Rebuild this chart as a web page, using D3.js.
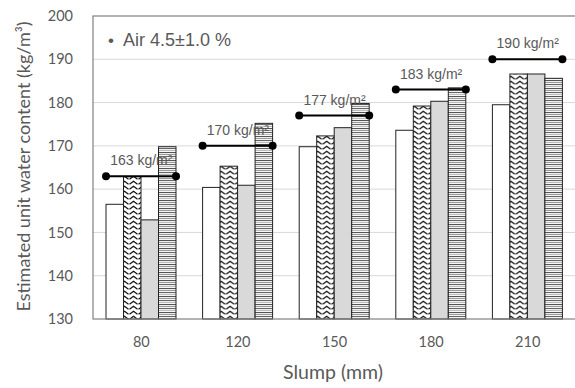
<!DOCTYPE html>
<html>
<head>
<meta charset="utf-8">
<script src="https://cdn.jsdelivr.net/npm/d3@7"></script>
<style>
  body { margin: 0; background: #fff; }
  svg { display: block; }
</style>
</head>
<body>
<div id="chart"></div>
<script>
// data
const slumps = ["80", "120", "150", "180", "210"];
const seriesNames = ["s1", "s2", "s3", "s4"];
const whiteBars   = [156.5, 160.4, 169.8, 173.6, 179.5];
const chevronBars = [162.9, 165.3, 172.3, 179.2, 186.6];
const grayBars    = [152.9, 160.9, 174.2, 180.3, 186.6];
const stripeBars  = [169.8, 175.2, 179.8, 183.4, 185.6];
const limits      = [163, 170, 177, 183, 190];
const yTicks      = [130, 140, 150, 160, 170, 180, 190, 200];

const W = 575, H = 388;
const margin = { top: 16, left: 93 };
const plotRight = 578, plotBottom = 319;

const svg = d3.select("#chart").append("svg")
  .attr("width", W).attr("height", H);

const defs = svg.append("defs");

// chevron pattern
const chev = defs.append("pattern")
  .attr("id", "chevron").attr("patternUnits", "userSpaceOnUse")
  .attr("width", 9).attr("height", 5);
chev.append("rect").attr("width", 9).attr("height", 5).attr("fill", "#fff");
chev.append("path").attr("d", "M0.5,4.2 L4.5,1.2 L8.5,4.2")
  .attr("fill", "none").attr("stroke", "#111").attr("stroke-width", 1.2);

// horizontal stripes pattern
const str = defs.append("pattern")
  .attr("id", "stripes").attr("patternUnits", "userSpaceOnUse")
  .attr("width", 4).attr("height", 8);
str.append("rect").attr("width", 4).attr("height", 8).attr("fill", "#fff");
[[0, "#555"], [2, "#999"], [4, "#666"], [6, "#bbb"]].forEach(([yy, c]) => {
  str.append("rect").attr("y", yy).attr("width", 4).attr("height", 1.1).attr("fill", c);
});

const x0 = d3.scaleBand().domain(slumps).range([margin.left, 576]).padding(0);
const x1 = d3.scaleBand().domain(seriesNames).range([13, 83]).padding(0);
const y = d3.scaleLinear().domain([130, 200]).range([plotBottom, margin.top]);

// gridlines
svg.append("g")
  .selectAll("line")
  .data(yTicks.slice(1, -1))
  .enter().append("line")
  .attr("x1", margin.left).attr("x2", plotRight)
  .attr("y1", d => y(d)).attr("y2", d => y(d))
  .attr("stroke", "#d9d9d9").attr("stroke-width", 1);

// bars
const fills = ["#fff", "url(#chevron)", "#d9d9d9", "url(#stripes)"];
const table = slumps.map((s, i) => ({
  slump: s,
  vals: [whiteBars[i], chevronBars[i], grayBars[i], stripeBars[i]]
}));

const groups = svg.append("g").selectAll("g")
  .data(table).enter().append("g")
  .attr("transform", d => `translate(${x0(d.slump)},0)`);

groups.selectAll("rect")
  .data(d => d.vals.map((v, j) => ({ key: seriesNames[j], v: v, j: j })))
  .enter().append("rect")
  .attr("x", d => x1(d.key))
  .attr("y", d => y(d.v))
  .attr("width", x1.bandwidth())
  .attr("height", d => y(130) - y(d.v))
  .attr("fill", d => fills[d.j])
  .attr("stroke", "#222")
  .attr("stroke-width", 1);

// frame
svg.append("rect")
  .attr("x", margin.left).attr("y", margin.top)
  .attr("width", plotRight - margin.left).attr("height", plotBottom - margin.top)
  .attr("fill", "none").attr("stroke", "#808080").attr("stroke-width", 1.2);

// limit lines with dots
const lim = svg.append("g").selectAll("g")
  .data(slumps.map((s, i) => ({ slump: s, v: limits[i] })))
  .enter().append("g");

lim.append("line")
  .attr("x1", d => x0(d.slump) + x1.range()[0])
  .attr("x2", d => x0(d.slump) + x1.range()[1])
  .attr("y1", d => y(d.v)).attr("y2", d => y(d.v))
  .attr("stroke", "#000").attr("stroke-width", 2);

lim.selectAll("circle")
  .data(d => [
    { cx: x0(d.slump) + x1.range()[0], cy: y(d.v) },
    { cx: x0(d.slump) + x1.range()[1], cy: y(d.v) }
  ])
  .enter().append("circle")
  .attr("cx", d => d.cx).attr("cy", d => d.cy).attr("r", 4)
  .attr("fill", "#000");

lim.append("text")
  .attr("x", d => x0(d.slump) + x0.bandwidth() / 2)
  .attr("y", d => y(d.v) - 11)
  .attr("text-anchor", "middle")
  .attr("font-family", "Liberation Sans, Arial, sans-serif")
  .attr("font-size", 14)
  .attr("fill", "#595959")
  .text(d => d.v + " kg/m\u00B2");

// y axis
const yAxis = svg.append("g")
  .attr("transform", `translate(${margin.left},0)`)
  .call(d3.axisLeft(y).tickValues(yTicks).tickSize(0).tickPadding(20));
yAxis.select(".domain").remove();
yAxis.selectAll("text")
  .attr("font-family", "Lato, sans-serif").attr("font-size", 14.5).attr("fill", "#595959");

// x axis
const xAxis = svg.append("g")
  .attr("transform", `translate(0,${plotBottom})`)
  .call(d3.axisBottom(x0).tickSize(0).tickPadding(18));
xAxis.select(".domain").remove();
xAxis.selectAll("text")
  .attr("font-family", "Lato, sans-serif").attr("font-size", 14.5).attr("fill", "#595959");

// annotation
svg.append("text")
  .attr("x", 108).attr("y", 45.5)
  .attr("font-family", "Liberation Sans, Arial, sans-serif")
  .attr("font-size", 17)
  .attr("fill", "#595959")
  .text("\u2022");
svg.append("text")
  .attr("x", 123).attr("y", 45.5)
  .attr("font-family", "Liberation Sans, Arial, sans-serif")
  .attr("font-size", 18)
  .attr("fill", "#595959")
  .text("Air 4.5\u00B11.0 %");

// axis labels
svg.append("text")
  .attr("x", 333).attr("y", 379)
  .attr("text-anchor", "middle")
  .attr("font-family", "Lato, sans-serif").attr("font-size", 19.5)
  .attr("fill", "#595959")
  .text("Slump (mm)");

svg.append("text")
  .attr("transform", "rotate(-90)")
  .attr("x", -166.5).attr("y", 30)
  .attr("text-anchor", "middle")
  .attr("font-family", "Lato, sans-serif").attr("font-size", 18)
  .attr("fill", "#595959")
  .text("Estimated unit water content (kg/m\u00B3)");
</script>
</body>
</html>
